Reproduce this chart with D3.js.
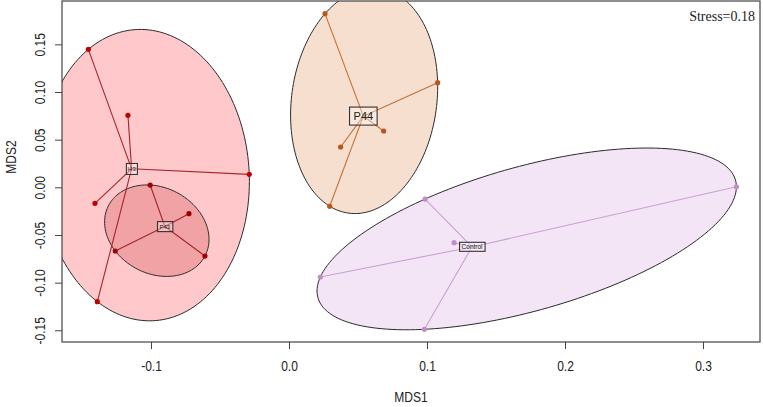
<!DOCTYPE html>
<html>
<head>
<meta charset="utf-8">
<script src="https://cdn.jsdelivr.net/npm/d3@7"></script>
<style>
  body { margin: 0; background: #fff; }
  .tick text { font-family: "Liberation Sans", Arial, sans-serif; font-size: 14px; fill: #222; }
  .aText { font-family: "Liberation Sans", Arial, sans-serif; font-size: 14px; fill: #222; }
</style>
</head>
<body>
<div id="nmds"></div>
<script>
// NMDS scores, one pair of arrays per group
var groupNames = ["I43", "P43", "P44", "Control"];
var i43X = [-0.1454, -0.1167, -0.0288, -0.1406, -0.1389];
var i43Y = [0.1448, 0.0755, 0.0136, -0.0168, -0.1200];
var p43X = [-0.1006, -0.0725, -0.0609, -0.1259];
var p43Y = [0.0024, -0.0277, -0.0721, -0.0668];
var p44X = [0.0261, 0.1077, 0.0686, 0.0374, 0.0295];
var p44Y = [0.1822, 0.1098, 0.0591, 0.0423, -0.0199];
var ctrlX = [0.0986, 0.1196, 0.0227, 0.0981, 0.3242];
var ctrlY = [-0.0123, -0.0581, -0.0941, -0.1490, 0.0006];

// axis ticks
var xTicks = [-0.1, 0.0, 0.1, 0.2, 0.3];
var yTicks = [-0.15, -0.10, -0.05, 0.00, 0.05, 0.10, 0.15];
var stressText = "Stress=0.18";

// SVG area
var svgWidth = 763;
var svgHeight = 407;
var margin = { top: 1, right: 3, bottom: 65, left: 62 };
var width = svgWidth - margin.left - margin.right;
var height = svgHeight - margin.top - margin.bottom;

// the original text is a narrow face, squeeze a regular one
var narrow = "scale(0.86, 1)";

var svg = d3.select("#nmds")
  .append("svg")
  .attr("width", svgWidth)
  .attr("height", svgHeight);

var chartGroup = svg.append("g")
  .attr("transform", `translate(${margin.left}, ${margin.top})`);

// Scales
var xScale = d3.scaleLinear().domain([-0.1645, 0.3413]).range([0, width]);
var yScale = d3.scaleLinear().domain([-0.1623, 0.1955]).range([height, 0]);

// group styles
var styles = {
  I43:     { fill: "#ffc9cb", line: "#a3262c", point: "#c00000", font: 6,   padX: 1, padY: 2.5 },
  P43:     { fill: "#f0a2a5", line: "#a3262c", point: "#a00000", font: 6,   padX: 2, padY: 2 },
  P44:     { fill: "#f6dfcf", line: "#c37236", point: "#b8571c", font: 11,  padX: 4, padY: 3 },
  Control: { fill: "#f3e4f6", line: "#c9a2d2", point: "#c28bcc", font: 6.5, padX: 2, padY: 1 }
};

var groups = [
  { name: groupNames[0], xs: i43X, ys: i43Y },
  { name: groupNames[1], xs: p43X, ys: p43Y },
  { name: groupNames[2], xs: p44X, ys: p44Y },
  { name: groupNames[3], xs: ctrlX, ys: ctrlY }
];

groups.forEach(function (g) {
  g.pts = g.xs.map((x, i) => [x, g.ys[i]]);
  g.cx = d3.mean(g.xs);
  g.cy = d3.mean(g.ys);
});

// 3x3 inverse
function inv3(m) {
  var a = m[0][0], b = m[0][1], c = m[0][2],
      d = m[1][0], e = m[1][1], f = m[1][2],
      g = m[2][0], h = m[2][1], k = m[2][2];
  var A = e * k - f * h, B = -(d * k - f * g), C = d * h - e * g;
  var det = a * A + b * B + c * C;
  return [
    [A / det, -(b * k - c * h) / det, (b * f - c * e) / det],
    [B / det, (a * k - c * g) / det, -(a * f - c * d) / det],
    [C / det, -(a * h - b * g) / det, (a * e - b * d) / det]
  ];
}

// minimum volume enclosing ellipse (ellipsoid hull), Khachiyan iteration
function ellipsoidHull(pts) {
  var n = pts.length, dim = 2;
  var u = pts.map(() => 1 / n);
  var q = pts.map(p => [p[0], p[1], 1]);
  for (var it = 0; it < 20000; it++) {
    var X = [[0, 0, 0], [0, 0, 0], [0, 0, 0]];
    q.forEach(function (v, i) {
      for (var r = 0; r < 3; r++)
        for (var s = 0; s < 3; s++) X[r][s] += u[i] * v[r] * v[s];
    });
    var Xi = inv3(X);
    var M = q.map(function (v) {
      var t = 0;
      for (var r = 0; r < 3; r++)
        for (var s = 0; s < 3; s++) t += v[r] * Xi[r][s] * v[s];
      return t;
    });
    var j = d3.maxIndex(M);
    var step = (M[j] - dim - 1) / ((dim + 1) * (M[j] - 1));
    if (step < 1e-9) break;
    u = u.map(w => w * (1 - step));
    u[j] += step;
  }
  var c = [d3.sum(pts, (p, i) => u[i] * p[0]), d3.sum(pts, (p, i) => u[i] * p[1])];
  var sxx = d3.sum(pts, (p, i) => u[i] * p[0] * p[0]) - c[0] * c[0];
  var sxy = d3.sum(pts, (p, i) => u[i] * p[0] * p[1]) - c[0] * c[1];
  var syy = d3.sum(pts, (p, i) => u[i] * p[1] * p[1]) - c[1] * c[1];
  // shape matrix = dim * covariance; boundary = c + L [cos t, sin t]
  var m11 = dim * sxx, m21 = dim * sxy, m22 = dim * syy;
  var l11 = Math.sqrt(m11), l21 = m21 / l11, l22 = Math.sqrt(Math.max(m22 - l21 * l21, 0));
  return d3.range(0, 361, 2).map(function (deg) {
    var t = deg * Math.PI / 180;
    return [c[0] + l11 * Math.cos(t), c[1] + l21 * Math.cos(t) + l22 * Math.sin(t)];
  });
}

// clip to plot region
svg.append("clipPath").attr("id", "plotClip")
  .append("rect").attr("width", width).attr("height", height);

var plotArea = chartGroup.append("g").attr("clip-path", "url(#plotClip)");

var ellipseLine = d3.line()
  .x(d => xScale(d[0]))
  .y(d => yScale(d[1]))
  .curve(d3.curveLinearClosed);

// ellipses
groups.forEach(function (g) {
  plotArea.append("path")
    .attr("d", ellipseLine(ellipsoidHull(g.pts)))
    .attr("fill", styles[g.name].fill)
    .attr("stroke", "#2b2b2b")
    .attr("stroke-width", 1);
});

// spiders and points
groups.forEach(function (g) {
  var st = styles[g.name];
  plotArea.selectAll(null)
    .data(g.pts)
    .enter()
    .append("line")
    .attr("x1", xScale(g.cx))
    .attr("y1", yScale(g.cy))
    .attr("x2", d => xScale(d[0]))
    .attr("y2", d => yScale(d[1]))
    .attr("stroke", st.line)
    .attr("stroke-width", 1.1);
});

groups.forEach(function (g) {
  var st = styles[g.name];
  plotArea.selectAll(null)
    .data(g.pts)
    .enter()
    .append("circle")
    .attr("cx", d => xScale(d[0]))
    .attr("cy", d => yScale(d[1]))
    .attr("r", 2.6)
    .attr("fill", st.point);
});

// centroid labels in boxes
groups.forEach(function (g) {
  var st = styles[g.name];
  var lab = plotArea.append("g")
    .attr("transform", `translate(${xScale(g.cx)}, ${yScale(g.cy)})`);
  var box = lab.append("rect");
  var txt = lab.append("text")
    .attr("text-anchor", "middle")
    .attr("dy", "0.36em")
    .style("font-family", "'Liberation Sans', Arial, sans-serif")
    .style("font-size", st.font + "px")
    .attr("fill", "#222")
    .text(g.name);
  var bb = txt.node().getBBox();
  box.attr("x", bb.x - st.padX)
    .attr("y", bb.y - st.padY)
    .attr("width", bb.width + 2 * st.padX)
    .attr("height", bb.height + 2 * st.padY)
    .attr("fill", "rgba(255,255,255,0.35)")
    .attr("stroke", "#333")
    .attr("stroke-width", 1.1);
});

// Axes
var fmt1 = d => d3.format(".1f")(d).replace("\u2212", "-");
var fmt2 = d => d3.format(".2f")(d).replace("\u2212", "-");

var bottomAxis = d3.axisBottom(xScale)
  .tickValues(xTicks)
  .tickSize(7)
  .tickPadding(12)
  .tickFormat(fmt1);

var leftAxis = d3.axisLeft(yScale)
  .tickValues(yTicks)
  .tickSize(7)
  .tickFormat(fmt2);

var xAxisG = chartGroup.append("g")
  .attr("transform", `translate(0, ${height})`)
  .call(bottomAxis);

var yAxisG = chartGroup.append("g")
  .call(leftAxis);

[xAxisG, yAxisG].forEach(function (a) {
  a.select(".domain").remove();
  a.selectAll(".tick line").attr("stroke", "#444");
});

xAxisG.selectAll(".tick text")
  .attr("transform", narrow);

yAxisG.selectAll(".tick text")
  .attr("x", null)
  .attr("dy", "0.35em")
  .attr("text-anchor", "middle")
  .attr("transform", `translate(-22, 0) rotate(-90) ${narrow}`);

// plot box
chartGroup.append("rect")
  .attr("width", width)
  .attr("height", height)
  .attr("fill", "none")
  .attr("stroke", "#444")
  .attr("stroke-width", 1.2);

// axis labels
chartGroup.append("text")
  .attr("class", "aText")
  .attr("text-anchor", "middle")
  .attr("transform", `translate(${width / 2}, ${height + 60}) ${narrow}`)
  .text("MDS1");

chartGroup.append("text")
  .attr("class", "aText")
  .attr("text-anchor", "middle")
  .attr("transform", `translate(${11 - margin.left}, 156) rotate(-90) ${narrow}`)
  .attr("dy", "0.35em")
  .text("MDS2");

// stress
chartGroup.append("text")
  .attr("x", width - 5)
  .attr("y", 20)
  .attr("text-anchor", "end")
  .style("font-family", "'Liberation Serif', 'Times New Roman', serif")
  .style("font-size", "14px")
  .attr("fill", "#222")
  .text(stressText);
</script>
</body>
</html>
